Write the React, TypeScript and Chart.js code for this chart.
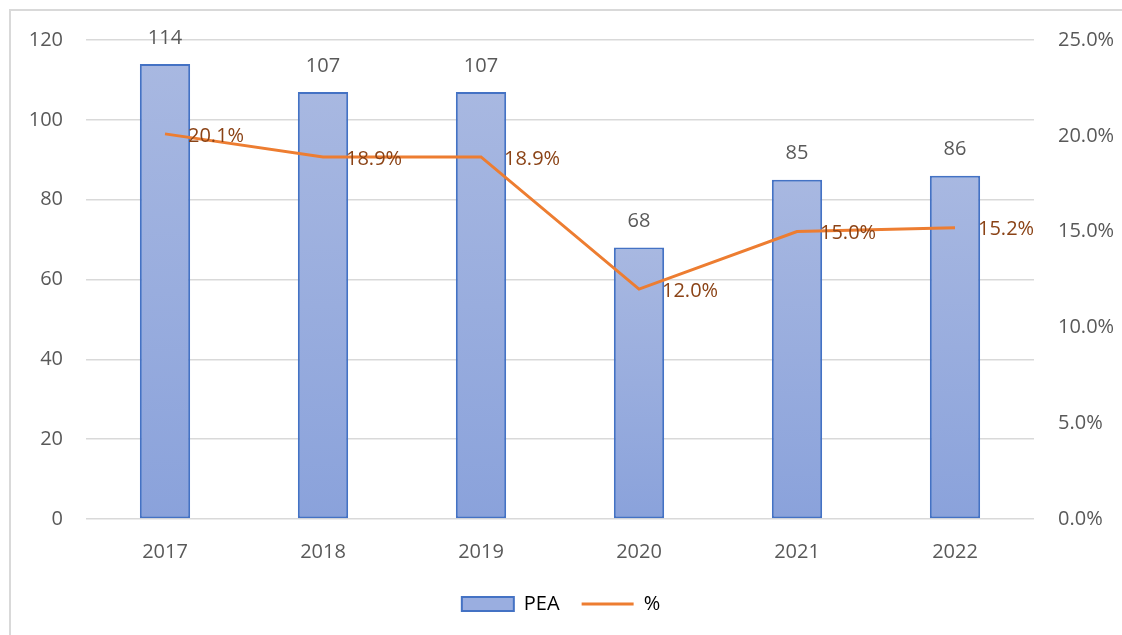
import React, { useEffect, useRef } from "react";
import { Chart, registerables } from "chart.js";

Chart.register(...registerables);

const categories = ["2017", "2018", "2019", "2020", "2021", "2022"];
const peaValues = [114, 107, 107, 68, 85, 86];
const pctValues = [20.1, 18.9, 18.9, 12.0, 15.0, 15.2];
const leftTicks = [0, 20, 40, 60, 80, 100, 120];
const rightTicks = [0, 5, 10, 15, 20, 25];

const FONT = "'Open Sans', 'Noto Sans', sans-serif";
const TICK_COLOR = "#595959";
const FS = 20;

const labelPlugin = {
  id: "valueLabels",
  afterDatasetsDraw(chart: any) {
    const ctx = chart.ctx;
    ctx.save();
    ctx.font = `${FS}px ${FONT}`;
    const barMeta = chart.getDatasetMeta(0);
    ctx.fillStyle = TICK_COLOR;
    ctx.textAlign = "center";
    ctx.textBaseline = "middle";
    barMeta.data.forEach((el: any, i: number) => {
      ctx.fillText(String(peaValues[i]), el.x, el.y - 26);
    });
    const lineMeta = chart.getDatasetMeta(1);
    ctx.fillStyle = "#8B4316";
    ctx.textAlign = "left";
    lineMeta.data.forEach((el: any, i: number) => {
      ctx.fillText(pctValues[i].toFixed(1) + "%", el.x + 23, el.y + 2);
    });
    ctx.restore();
  },
};

export default function App() {
  const ref = useRef<HTMLCanvasElement>(null);
  useEffect(() => {
    document.body.style.margin = "0";
    const canvas = ref.current!;
    const barBg = (c: any) => {
      const chart = c.chart;
      if (!chart.chartArea || c.type !== "data") return "#9AAEE0";
      const y = chart.scales.y;
      const top = y.getPixelForValue(peaValues[c.dataIndex]);
      const bottom = y.getPixelForValue(0);
      const g = chart.ctx.createLinearGradient(0, top, 0, bottom);
      g.addColorStop(0, "#A8B8E1");
      g.addColorStop(1, "#8AA2DB");
      return g;
    };
    const chart = new Chart(canvas, {
      type: "bar",
      data: {
        labels: categories,
        datasets: [
          {
            type: "bar",
            label: "PEA",
            data: peaValues,
            backgroundColor: barBg as any,
            borderColor: "#4472C4",
            borderWidth: 2,
            borderSkipped: false,
            barPercentage: 0.95,
            categoryPercentage: 0.335,
            yAxisID: "y",
            order: 2,
          },
          {
            type: "line",
            label: "%",
            data: pctValues,
            borderColor: "#ED7D31",
            backgroundColor: "#ED7D31",
            borderWidth: 3,
            pointRadius: 0,
            tension: 0,
            yAxisID: "y1",
            order: 1,
          },
        ],
      },
      options: {
        animation: false,
        responsive: false,
        layout: { padding: { top: 40, left: 0, right: 0, bottom: 11 } },
        plugins: {
          tooltip: { enabled: false },
          legend: {
            position: "bottom",
            labels: {
              font: { family: FONT, size: FS },
              color: TICK_COLOR,
              usePointStyle: true,
              pointStyleWidth: 52,
              boxHeight: 14,
              padding: 22,
              generateLabels: () => [
                {
                  text: "PEA",
                  fillStyle: "#9AAEE0",
                  strokeStyle: "#4472C4",
                  lineWidth: 2,
                  datasetIndex: 0,
                  pointStyle: "rect",
                } as any,
                {
                  text: "%",
                  fillStyle: "#ED7D31",
                  strokeStyle: "#ED7D31",
                  lineWidth: 3,
                  datasetIndex: 1,
                  pointStyle: "line",
                } as any,
              ],
            },
          },
        },
        scales: {
          x: {
            grid: { display: false },
            border: { display: false },
            ticks: { color: TICK_COLOR, font: { family: FONT, size: FS }, padding: 13 },
            afterFit: (s: any) => {
              s.height = 53;
            },
          },
          y: {
            position: "left",
            min: 0,
            max: 120,
            afterBuildTicks: (s: any) => {
              s.ticks = leftTicks.map((v) => ({ value: v }));
            },
            grid: { color: "#D9D9D9", lineWidth: 1.5, drawTicks: false },
            border: { display: false },
            ticks: { color: TICK_COLOR, font: { family: FONT, size: FS }, padding: 23 },
            afterFit: (s: any) => {
              s.width = 86;
            },
          },
          y1: {
            position: "right",
            min: 0,
            max: 25,
            afterBuildTicks: (s: any) => {
              s.ticks = rightTicks.map((v) => ({ value: v }));
            },
            grid: { display: false, drawTicks: false },
            border: { display: false },
            ticks: {
              color: TICK_COLOR,
              font: { family: FONT, size: FS },
              padding: 24,
              callback: (v: any) => Number(v).toFixed(1) + "%",
            },
            afterFit: (s: any) => {
              s.width = 1122 - 1034;
            },
          },
        },
      },
      plugins: [labelPlugin],
    });
    return () => chart.destroy();
  }, []);

  return (
    <div style={{ position: "relative", width: 1122, height: 635, overflow: "hidden", background: "#fff" }}>
      <div
        style={{
          position: "absolute",
          left: 9,
          top: 9,
          width: 1200,
          height: 700,
          borderLeft: "2px solid #D9D9D9",
          borderTop: "2px solid #D9D9D9",
        }}
      />
      <canvas ref={ref} width={1122} height={635} style={{ position: "absolute", left: 0, top: 0 }} />
    </div>
  );
}
